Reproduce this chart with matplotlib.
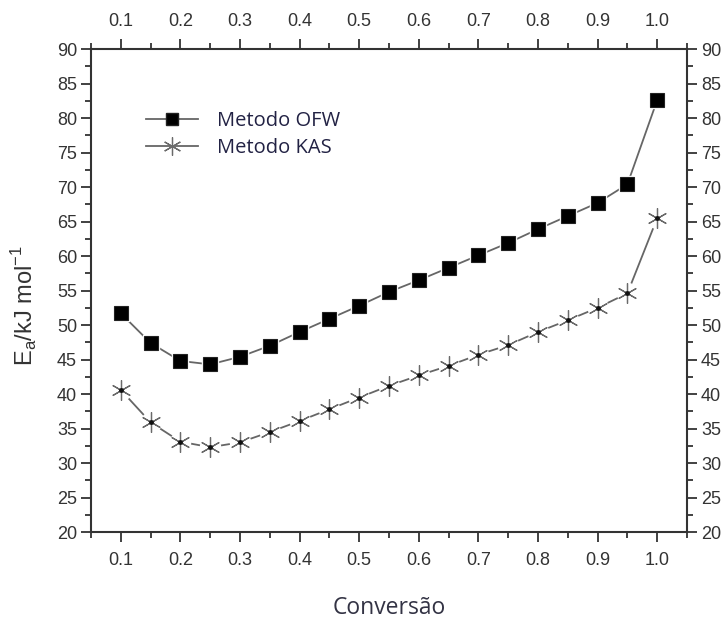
import matplotlib
matplotlib.use("Agg")
import matplotlib.pyplot as plt
from matplotlib.ticker import MultipleLocator
from matplotlib.lines import Line2D

conversion = [0.10, 0.15, 0.20, 0.25, 0.30, 0.35, 0.40, 0.45, 0.50, 0.55,
              0.60, 0.65, 0.70, 0.75, 0.80, 0.85, 0.90, 0.95, 1.00]
ofw = [51.7, 47.4, 44.8, 44.3, 45.4, 47.0, 49.0, 50.9, 52.8, 54.8,
       56.5, 58.3, 60.1, 61.9, 63.9, 65.8, 67.7, 70.4, 82.6]
kas = [40.6, 35.9, 33.1, 32.3, 33.0, 34.5, 36.1, 37.8, 39.5, 41.2,
       42.7, 44.1, 45.7, 47.1, 49.0, 50.7, 52.5, 54.6, 65.5]
xticks = [0.1, 0.2, 0.3, 0.4, 0.5, 0.6, 0.7, 0.8, 0.9, 1.0]
yticks = list(range(20, 95, 5))

fig = plt.figure(figsize=(7.28, 6.26), dpi=100)
ax = fig.add_axes([0.125, 0.150, 0.8187, 0.7717])

line_c = '#666666'
star = (6, 2, 0)
# lines
ax.plot(conversion, ofw, color=line_c, lw=1.3, zorder=1)
ax.plot(conversion, kas, color=line_c, lw=1.3, zorder=1)
# white halos for gaps around markers
ax.plot(conversion, ofw, ls='none', marker='s', ms=12, color='white', zorder=2)
ax.plot(conversion, kas, ls='none', marker='o', ms=14.5, color='white', zorder=2)
# markers
ax.plot(conversion, ofw, ls='none', marker='s', ms=10, mfc='black', mec='#222222', mew=0.8, zorder=3)
ax.plot(conversion, kas, ls='none', marker=star, ms=14.5, mec='#6a6a6a', mew=0.9, zorder=3)
ax.plot(conversion, kas, ls='none', marker='o', ms=2.5, color='#111111', zorder=4)

ax.set_xlim(0.05, 1.05)
ax.set_ylim(20, 90)
ax.set_xticks(xticks)
ax.set_xticklabels([f"{v:.1f}" for v in xticks])
ax.set_yticks(yticks)
ax.xaxis.set_minor_locator(MultipleLocator(0.05))
ax.yaxis.set_minor_locator(MultipleLocator(2.5))
ax.tick_params(which='both', direction='out', top=True, right=True,
               labeltop=True, labelright=True, width=1.3, color='#333333',
               labelsize=13, labelcolor='#333333')
ax.tick_params(which='major', length=7)
ax.tick_params(which='minor', length=4)
ax.tick_params(axis='x', which='major', pad=7)
ax.tick_params(axis='y', which='major', pad=3)
for lab in ax.get_xticklabels() + ax.get_yticklabels():
    lab.set_family(['Liberation Sans', 'DejaVu Sans'])
for sp in ax.spines.values():
    sp.set_linewidth(1.5)
    sp.set_color('#333333')

ax.set_xlabel('Conversão', fontsize=16.5, family='Open Sans', color='#333344')
ax.xaxis.set_label_coords(0.5, -0.132)
ax.set_ylabel(r'E$_\mathregular{a}$/kJ mol$^\mathregular{-1}$', fontsize=17,
              family='Liberation Sans', color='#333333')
ax.yaxis.set_label_coords(-0.086, 0.47)

handles = [
    Line2D([0], [0], color=line_c, lw=1.3, marker='s', ms=9, mfc='black', mec='#222222'),
    Line2D([0], [0], color=line_c, lw=1.3, marker=star, ms=13, mec='#6a6a6a', mew=0.9),
]
leg = ax.legend(handles, ['Metodo OFW', 'Metodo KAS'], loc='upper left',
                bbox_to_anchor=(0.062, 0.91), frameon=False, handlelength=2.6,
                handletextpad=0.9, labelspacing=0.35,
                prop={'family': 'Open Sans', 'size': 14.5})
for t in leg.get_texts():
    t.set_color('#222244')

fig.savefig('out.png', dpi=100)
